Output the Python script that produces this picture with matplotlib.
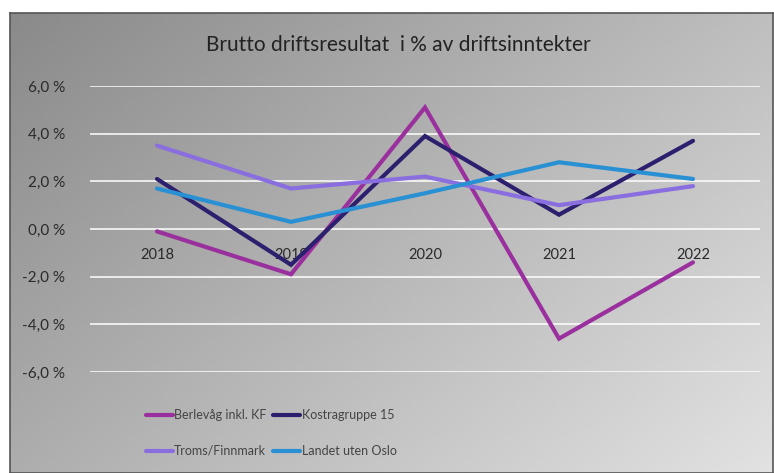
import matplotlib
matplotlib.use("Agg")
import matplotlib.pyplot as plt
import numpy as np

years = ["2018", "2019", "2020", "2021", "2022"]
berlevag = [-0.1, -1.9, 5.1, -4.6, -1.4]
kostra15 = [2.1, -1.5, 3.9, 0.6, 3.7]
troms_finnmark = [3.5, 1.7, 2.2, 1.0, 1.8]
landet_uten_oslo = [1.7, 0.3, 1.5, 2.8, 2.1]
series_names = ["Berlevåg inkl. KF", "Kostragruppe 15", "Troms/Finnmark", "Landet uten Oslo"]
yticks = [-6, -4, -2, 0, 2, 4, 6]
title = "Brutto driftsresultat  i % av driftsinntekter"

colors = ["#9a2f9e", "#2c1f6e", "#8a6ee0", "#2a90d4"]

plt.rcParams['font.family'] = ['Lato', 'DejaVu Sans']

W, H = 774, 473
fig = plt.figure(figsize=(W / 100, H / 100), dpi=100)
fig.patch.set_facecolor("white")

# background frame with diagonal gradient
bg = fig.add_axes([10 / W, 0, 763 / W, 1 - 13 / H])
bg.set_zorder(0)
nx, ny = 200, 120
gx = np.linspace(0, 1, nx)[None, :]
gy = np.linspace(0, 1, ny)[:, None]
t = (gx * 0.6 + gy * 0.4)
start = np.array([0x8a, 0x8a, 0x8a]) / 255
end = np.array([0xe2, 0xe2, 0xe2]) / 255
img = start[None, None, :] * (1 - t[..., None]) + end[None, None, :] * t[..., None]
bg.imshow(img, aspect="auto", origin="upper", extent=[0, 1, 0, 1])
bg.set_xlim(0, 1)
bg.set_ylim(0, 1)
bg.set_xticks([])
bg.set_yticks([])
for s in bg.spines.values():
    s.set_color("#555555")
    s.set_linewidth(1.2)

ax = fig.add_axes([90 / W, 1 - 372 / H, 670 / W, (372 - 86) / H])
ax.set_zorder(1)
ax.patch.set_alpha(0)
x = np.arange(len(years))
for vals, c, name in zip([berlevag, kostra15, troms_finnmark, landet_uten_oslo], colors, series_names):
    ax.plot(x, vals, color=c, lw=3.0, label=name, solid_capstyle="round", solid_joinstyle="miter", zorder=3)

ax.set_xlim(-0.5, len(years) - 0.5)
ax.set_ylim(-6, 6)
ax.set_yticks(yticks)
ax.set_yticklabels([f"{v:.1f} %".replace(".", ",") for v in yticks], fontsize=11, color="#2a2a2a")
ax.tick_params(axis="y", length=0, pad=18)
ax.grid(axis="y", color="white", lw=1.3, alpha=0.85, zorder=1)
ax.set_xticks([])
for s in ax.spines.values():
    s.set_visible(False)
for i, yr in enumerate(years):
    ax.text(i, -0.8, yr, ha="center", va="top", fontsize=10.5, color="#2a2a2a", zorder=2)

fig.text(398 / W, 1 - 45 / H, title, ha="center", va="center", fontsize=15, color="#222222")

handles, labels = ax.get_legend_handles_labels()
order = [0, 2, 1, 3]
leg = fig.legend([handles[i] for i in order], [labels[i] for i in order], ncol=2, loc="center",
                 bbox_to_anchor=(271 / W, 1 - 433 / H),
                 frameon=False, fontsize=9, handlelength=2.2, handletextpad=0.1,
                 columnspacing=0.5, labelspacing=1.9, labelcolor="#444444")

fig.savefig("out.png", dpi=100)
